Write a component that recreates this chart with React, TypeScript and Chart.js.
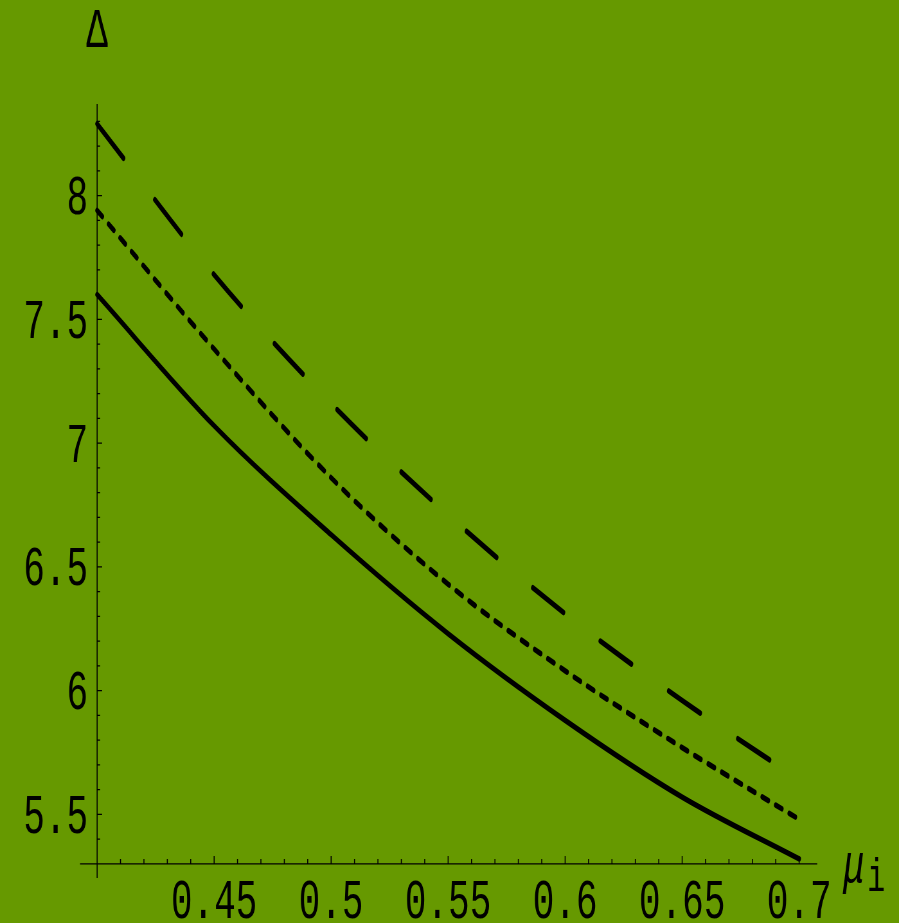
import React, { useEffect, useRef } from "react";
import { Chart, registerables } from "chart.js";

Chart.register(...registerables);

// ---- data ----
const muValues = [0.4, 0.45, 0.5, 0.55, 0.6, 0.65, 0.7];
const solidDelta = [7.6, 7.07, 6.63, 6.23, 5.88, 5.57, 5.32];
const dottedDelta = [7.94, 7.38, 6.86, 6.43, 6.08, 5.77, 5.48];
const dashedDelta = [8.29, 7.68, 7.16, 6.71, 6.31, 5.96, 5.64];

const xTickValues = [0.45, 0.5, 0.55, 0.6, 0.65, 0.7];
const xTickLabels = ["0.45", "0.5", "0.55", "0.6", "0.65", "0.7"];
const yTickValues = [5.5, 6, 6.5, 7, 7.5, 8];
const yTickLabels = ["5.5", "6", "6.5", "7", "7.5", "8"];

const yAxisTitle = "Δ";
const xAxisTitle = "μ";
const xAxisSub = "i";

const BG = "#669900";
const FONT = "Liberation Mono";
// the picture is stretched vertically: draw at 899x593 and stretch to 899x923
const K = 1.5565;
const W = 899;
const H = 593;

const axesPlugin = {
  id: "mmaAxes",
  beforeDraw(chart: any) {
    const ctx = chart.ctx;
    ctx.save();
    ctx.fillStyle = BG;
    ctx.fillRect(0, 0, chart.width, chart.height);
    ctx.restore();
  },
  beforeDatasetsDraw(chart: any) {
    const ctx = chart.ctx;
    const xs = chart.scales.x;
    const ys = chart.scales.y;
    const area = chart.chartArea;
    const x0 = xs.getPixelForValue(0.4);
    const y0 = ys.getPixelForValue(5.3);
    ctx.save();
    ctx.strokeStyle = "#000";
    ctx.lineWidth = 0.8;
    ctx.beginPath();
    ctx.moveTo(area.left, y0);
    ctx.lineTo(area.right, y0);
    ctx.stroke();
    ctx.lineWidth = 1;
    ctx.beginPath();
    ctx.moveTo(x0, area.top);
    ctx.lineTo(x0, area.bottom);
    for (let i = 41; i <= 70; i++) {
      const px = xs.getPixelForValue(i / 100);
      const len = i % 5 === 0 ? 5.1 : 3.2;
      ctx.moveTo(px, y0);
      ctx.lineTo(px, y0 - len);
    }
    ctx.stroke();
    ctx.lineWidth = 0.8;
    ctx.beginPath();
    for (let i = 54; i <= 83; i++) {
      const py = ys.getPixelForValue(i / 10);
      const len = i % 5 === 0 ? 5 : 3;
      ctx.moveTo(x0, py);
      ctx.lineTo(x0 + len, py);
    }
    ctx.stroke();
    ctx.restore();
  },
  afterDraw(chart: any) {
    const ctx = chart.ctx;
    const xs = chart.scales.x;
    const ys = chart.scales.y;
    const x0 = xs.getPixelForValue(0.4);
    const y0 = ys.getPixelForValue(5.3);
    const drawText = (t: string, x: number, y: number, align: CanvasTextAlign, font: string) => {
      ctx.save();
      ctx.font = font;
      ctx.textAlign = align;
      ctx.textBaseline = "alphabetic";
      ctx.fillStyle = "#000";
      ctx.fillText(t, x, y);
      ctx.restore();
    };
    const f = `36px "${FONT}"`;
    xTickValues.forEach((v, i) => {
      drawText(xTickLabels[i], xs.getPixelForValue(v), y0 + 34.8, "center", f);
    });
    yTickValues.forEach((v, i) => {
      drawText(yTickLabels[i], x0 - 9, ys.getPixelForValue(v) + 11.9, "right", f);
    });
    drawText(yAxisTitle, x0, 30.2, "center", f);
    drawText(xAxisTitle, 843, 566.7, "left", `italic 36px "${FONT}"`);
    drawText(xAxisSub, 867, 572.4, "left", `30px "${FONT}"`);
  },
};

export default function App() {
  const ref = useRef<HTMLCanvasElement | null>(null);
  useEffect(() => {
    document.body.style.margin = "0";
    const pts = (ys: number[]) => muValues.map((x, i) => ({ x, y: ys[i] }));
    const common = {
      borderColor: "#000",
      borderWidth: 3.6,
      pointRadius: 0,
      fill: false,
      cubicInterpolationMode: "monotone" as const,
      borderCapStyle: "round" as const,
      borderJoinStyle: "round" as const,
    };
    const chart = new Chart(ref.current as HTMLCanvasElement, {
      type: "line",
      data: {
        datasets: [
          { ...common, label: "solid", data: pts(solidDelta) },
          { ...common, label: "dotted", data: pts(dottedDelta), borderDash: [6.5, 8] },
          { ...common, label: "dashed", data: pts(dashedDelta), borderDash: [34.5, 41.1] },
        ],
      },
      options: {
        animation: false,
        responsive: false,
        devicePixelRatio: K,
        events: [],
        layout: { padding: { left: 80, right: 82, top: 104 / K, bottom: H - 878 / K } },
        plugins: { legend: { display: false }, tooltip: { enabled: false }, title: { display: false } },
        scales: {
          x: { type: "linear", display: false, min: 0.3927, max: 0.7077 },
          y: { type: "linear", display: false, min: 5.243, max: 8.37 },
        },
      },
      plugins: [axesPlugin],
    });
    return () => chart.destroy();
  }, []);
  return (
    <div style={{ position: "absolute", left: 0, top: 0, width: 899, height: 923, background: BG }}>
      <canvas ref={ref} width={W} height={H} style={{ display: "block", width: "899px", height: "923px" }} />
    </div>
  );
}
